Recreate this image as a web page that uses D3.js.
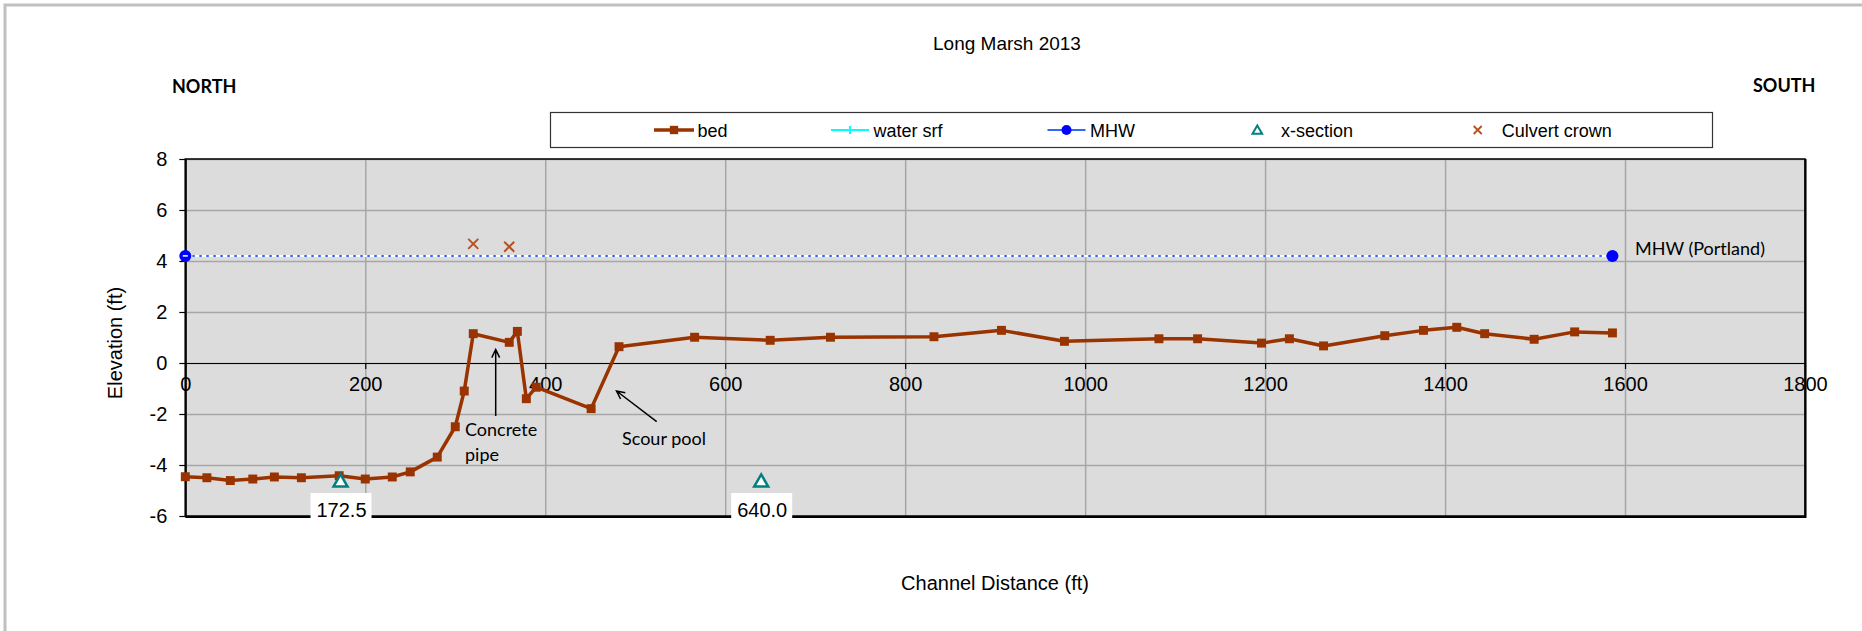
<!DOCTYPE html>
<html>
<head>
<meta charset="utf-8">
<script src="https://cdn.jsdelivr.net/npm/d3@7"></script>
<style>
  body { margin: 0; background: #fff; }
  svg { display: block; }
  .tick text { font-family: "Liberation Sans", Arial, sans-serif; font-size: 20px; fill: #000; }
</style>
</head>
<body>
<div id="chart"></div>
<script>
// channel profile, bed elevation (ft)
var bedX = [0, 24, 50, 75, 99, 129, 171, 200, 230, 250, 280, 300, 310, 320, 360, 369, 379, 390, 451, 482,
            566, 650, 717, 832, 907, 977, 1082, 1125, 1196, 1227, 1265, 1333, 1376, 1413, 1444, 1499, 1544, 1586];
var bedY = [-4.46, -4.50, -4.61, -4.55, -4.47, -4.50, -4.42, -4.55, -4.47, -4.27, -3.69, -2.50, -1.10, 1.15, 0.81, 1.24, -1.40, -0.95, -1.79, 0.64,
            1.01, 0.89, 1.01, 1.03, 1.28, 0.85, 0.95, 0.95, 0.78, 0.95, 0.67, 1.07, 1.28, 1.40, 1.15, 0.93, 1.22, 1.18];

var mhwX = [0, 1586];
var mhwY = [4.2, 4.2];

var culvertX = [320, 360];
var culvertY = [4.67, 4.56];

var xsecX = [172.5, 640];
var xsecY = [-4.65, -4.65];
var xsecLabels = ["172.5", "640.0"];

var xTicks = [0, 200, 400, 600, 800, 1000, 1200, 1400, 1600, 1800];
var yTicks = [-6, -4, -2, 0, 2, 4, 6, 8];

var legendItems = ["bed", "water srf", "MHW", "x-section", "Culvert crown"];

var width = 1862, height = 631;
var margin = {top: 159, bottom: 115, left: 185.3, right: 57};

var bedColor = "#993300";
var culvertColor = "#b8501e";
var xsecColor = "#008080";

var svg = d3.select("#chart")
    .append("svg")
    .attr("width", width)
    .attr("height", height);

// outer chart frame (only top & left show in the picture)
svg.append("path")
    .attr("d", "M5,640 L5,5 L1870,5")
    .attr("fill", "none")
    .attr("stroke", "#c0c0c0")
    .attr("stroke-width", 3);

var xScale = d3.scaleLinear()
    .domain([0, 1800])
    .range([margin.left, width - margin.right]);

var yScale = d3.scaleLinear()
    .domain([-6, 8])
    .range([height - margin.bottom, margin.top]);

var plotW = xScale(1800) - xScale(0);
var plotH = yScale(-6) - yScale(8);

// plain hyphen for negatives, like the original
var fmt = function(d) { return String(d); };

// plot area
svg.append("rect")
    .attr("x", xScale(0))
    .attr("y", yScale(8))
    .attr("width", plotW)
    .attr("height", plotH)
    .attr("fill", "#dcdcdc");

// grid
svg.append("g")
    .attr("class", "grid")
    .attr("transform", `translate(0, ${yScale(-6)})`)
    .call(d3.axisBottom(xScale).tickValues(xTicks).tickSize(-plotH).tickFormat(""))
    .call(g => g.select(".domain").remove())
    .selectAll("line").attr("stroke", "#a6a6a6").attr("stroke-width", 1.5);

svg.append("g")
    .attr("class", "grid")
    .attr("transform", `translate(${xScale(0)}, 0)`)
    .call(d3.axisLeft(yScale).tickValues(yTicks).tickSize(-plotW).tickFormat(""))
    .call(g => g.select(".domain").remove())
    .selectAll("line").attr("stroke", "#a6a6a6").attr("stroke-width", 1.5);

// plot border
svg.append("rect")
    .attr("x", xScale(0))
    .attr("y", yScale(8))
    .attr("width", plotW)
    .attr("height", plotH)
    .attr("fill", "none")
    .attr("stroke", "#000")
    .attr("stroke-width", 1.5);
svg.append("line")
    .attr("x1", xScale(0)).attr("x2", xScale(1800))
    .attr("y1", yScale(-6) + 1).attr("y2", yScale(-6) + 1)
    .attr("stroke", "#000").attr("stroke-width", 2);
svg.append("line")
    .attr("x1", xScale(1800) + 0.5).attr("x2", xScale(1800) + 0.5)
    .attr("y1", yScale(8)).attr("y2", yScale(-6) + 2)
    .attr("stroke", "#000").attr("stroke-width", 2);

// x axis crosses at 0
var xAxis = svg.append("g")
    .attr("transform", `translate(0, ${yScale(0)})`)
    .call(d3.axisBottom(xScale).tickValues(xTicks).tickSize(6).tickSizeOuter(0).tickPadding(8).tickFormat(fmt));
xAxis.select(".domain").attr("stroke", "#000").attr("stroke-width", 1.2);
xAxis.selectAll(".tick line").attr("stroke", "#000").attr("stroke-width", 1.2);

var yAxis = svg.append("g")
    .attr("transform", `translate(${xScale(0)}, 0)`)
    .call(d3.axisLeft(yScale).tickValues(yTicks).tickSize(6).tickSizeOuter(0).tickPadding(12).tickFormat(fmt));
yAxis.select(".domain").attr("stroke", "#000").attr("stroke-width", 2);
yAxis.selectAll(".tick line").attr("stroke", "#000").attr("stroke-width", 1.2);

// MHW dotted line
var mhwData = mhwX.map(function(d, i) { return {x: d, y: mhwY[i]}; });
var mhwLine = d3.line().x(d => xScale(d.x)).y(d => yScale(d.y));
svg.append("path")
    .datum(mhwData)
    .attr("d", mhwLine)
    .attr("fill", "none")
    .attr("stroke", "#ffffff")
    .attr("stroke-width", 2);
svg.append("path")
    .datum(mhwData)
    .attr("d", mhwLine)
    .attr("fill", "none")
    .attr("stroke", "#3366ff")
    .attr("stroke-width", 2)
    .attr("stroke-dasharray", "2.5,4.5");
svg.selectAll(".mhw")
    .data(mhwData)
    .enter()
    .append("circle")
    .attr("class", "mhw")
    .attr("cx", d => xScale(d.x))
    .attr("cy", d => yScale(d.y))
    .attr("r", 6)
    .attr("fill", "#0000ff");
svg.append("line")
    .attr("x1", xScale(0) - 2.5).attr("x2", xScale(0) + 2.5)
    .attr("y1", yScale(mhwY[0])).attr("y2", yScale(mhwY[0]))
    .attr("stroke", "#fff").attr("stroke-width", 1.5);

// bed profile
var bedData = bedX.map(function(d, i) { return {x: d, y: bedY[i]}; });
svg.append("path")
    .datum(bedData)
    .attr("d", d3.line().x(d => xScale(d.x)).y(d => yScale(d.y)))
    .attr("fill", "none")
    .attr("stroke", bedColor)
    .attr("stroke-width", 3.5)
    .attr("stroke-linejoin", "round");
svg.selectAll(".bed")
    .data(bedData)
    .enter()
    .append("path")
    .attr("class", "bed")
    .attr("transform", d => `translate(${xScale(d.x)}, ${yScale(d.y)})`)
    .attr("d", d3.symbol(d3.symbolSquare, 80))
    .attr("fill", bedColor);

// culvert crown
var culvertData = culvertX.map(function(d, i) { return {x: d, y: culvertY[i]}; });
svg.selectAll(".culvert")
    .data(culvertData)
    .enter()
    .append("path")
    .attr("class", "culvert")
    .attr("transform", d => `translate(${xScale(d.x)}, ${yScale(d.y)})`)
    .attr("d", "M-5,-5L5,5M-5,5L5,-5")
    .attr("stroke", culvertColor)
    .attr("stroke-width", 2);

// x-sections with labels
var xsecData = xsecX.map(function(d, i) { return {x: d, y: xsecY[i], label: xsecLabels[i]}; });
var xs = svg.selectAll(".xsec")
    .data(xsecData)
    .enter()
    .append("g")
    .attr("class", "xsec");
xs.append("path")
    .attr("transform", d => `translate(${xScale(d.x)}, ${yScale(d.y) + 1})`)
    .attr("d", d3.symbol(d3.symbolTriangle, 85))
    .attr("fill", "#fff")
    .attr("stroke", xsecColor)
    .attr("stroke-width", 2.5);
xs.append("rect")
    .attr("x", d => xScale(d.x) - 30)
    .attr("y", yScale(-6) - 23)
    .attr("width", 61)
    .attr("height", 32)
    .attr("fill", "#fff");
xs.append("text")
    .attr("x", d => xScale(d.x) + 1)
    .attr("y", yScale(-6) + 1)
    .attr("text-anchor", "middle")
    .style("font-family", "Liberation Sans, Arial, sans-serif")
    .style("font-size", "20px")
    .text(d => d.label);

// annotations
var annoFont = "Lato, 'Open Sans', sans-serif";
svg.append("text")
    .attr("x", 465).attr("y", 436)
    .style("font-family", annoFont).style("font-size", "18px")
    .text("Concrete");
svg.append("text")
    .attr("x", 465).attr("y", 461)
    .style("font-family", annoFont).style("font-size", "18px")
    .text("pipe");
svg.append("text")
    .attr("x", 622).attr("y", 445)
    .style("font-family", annoFont).style("font-size", "18px")
    .text("Scour pool");
svg.append("text")
    .attr("x", 1635).attr("y", 255)
    .style("font-family", annoFont).style("font-size", "18px")
    .text("MHW (Portland)");

function arrow(x1, y1, x2, y2) {
    var a = Math.atan2(y2 - y1, x2 - x1), h = 9, s = 0.45;
    svg.append("path")
        .attr("d", `M${x1},${y1}L${x2},${y2}` +
            `M${x2 - h * Math.cos(a - s)},${y2 - h * Math.sin(a - s)}L${x2},${y2}` +
            `L${x2 - h * Math.cos(a + s)},${y2 - h * Math.sin(a + s)}`)
        .attr("fill", "none")
        .attr("stroke", "#000")
        .attr("stroke-width", 1.5);
}
arrow(495.7, 416, 495.7, 349.5);
arrow(656.7, 421.7, 616.5, 391);

// titles
svg.append("text")
    .attr("x", 1007).attr("y", 50)
    .attr("text-anchor", "middle")
    .style("font-family", "Liberation Sans, Arial, sans-serif")
    .style("font-size", "19px")
    .text("Long Marsh 2013");
svg.append("text")
    .attr("x", 172).attr("y", 93)
    .style("font-family", annoFont).style("font-size", "18px").style("font-weight", "bold")
    .text("NORTH");
svg.append("text")
    .attr("x", 1753).attr("y", 92)
    .style("font-family", annoFont).style("font-size", "18px").style("font-weight", "bold")
    .text("SOUTH");
svg.append("text")
    .attr("transform", "translate(122, 343) rotate(-90)")
    .attr("text-anchor", "middle")
    .style("font-family", "Liberation Sans, Arial, sans-serif")
    .style("font-size", "20px")
    .text("Elevation (ft)");
svg.append("text")
    .attr("x", 995).attr("y", 590)
    .attr("text-anchor", "middle")
    .style("font-family", "Liberation Sans, Arial, sans-serif")
    .style("font-size", "20px")
    .text("Channel Distance (ft)");

// legend
var legend = svg.append("g");
legend.append("rect")
    .attr("x", 550.5).attr("y", 112.5)
    .attr("width", 1162).attr("height", 35)
    .attr("fill", "#fff")
    .attr("stroke", "#333")
    .attr("stroke-width", 1.2);

var legX = [674, 850, 1066.5, 1257.3, 1477.7];
var textX = [697.5, 873.5, 1090, 1281, 1501.7];
var ly = 130;
legend.selectAll("text")
    .data(legendItems)
    .enter()
    .append("text")
    .attr("x", (d, i) => textX[i])
    .attr("y", ly + 6.5)
    .style("font-family", "Liberation Sans, Arial, sans-serif")
    .style("font-size", "18px")
    .text(d => d);

// bed
legend.append("line").attr("x1", legX[0] - 20).attr("x2", legX[0] + 20).attr("y1", ly).attr("y2", ly)
    .attr("stroke", bedColor).attr("stroke-width", 3.5);
legend.append("path").attr("transform", `translate(${legX[0]}, ${ly})`)
    .attr("d", d3.symbol(d3.symbolSquare, 70)).attr("fill", bedColor);
// water srf
legend.append("line").attr("x1", legX[1] - 19).attr("x2", legX[1] + 19).attr("y1", ly).attr("y2", ly)
    .attr("stroke", "#00ffff").attr("stroke-width", 2);
legend.append("path").attr("transform", `translate(${legX[1]}, ${ly})`)
    .attr("d", "M-4,0L4,0M0,-4L0,4").attr("stroke", "#00ffff").attr("stroke-width", 2);
// MHW
legend.append("line").attr("x1", legX[2] - 19).attr("x2", legX[2] + 19).attr("y1", ly).attr("y2", ly)
    .attr("stroke", "#3366ff").attr("stroke-width", 2);
legend.append("circle").attr("cx", legX[2]).attr("cy", ly).attr("r", 5).attr("fill", "#0000ff");
// x-section
legend.append("path").attr("transform", `translate(${legX[3]}, ${ly + 1})`)
    .attr("d", d3.symbol(d3.symbolTriangle, 40)).attr("fill", "#fff")
    .attr("stroke", xsecColor).attr("stroke-width", 2);
// culvert crown
legend.append("path").attr("transform", `translate(${legX[4]}, ${ly})`)
    .attr("d", "M-4,-4L4,4M-4,4L4,-4").attr("stroke", culvertColor).attr("stroke-width", 1.8);
</script>
</body>
</html>
